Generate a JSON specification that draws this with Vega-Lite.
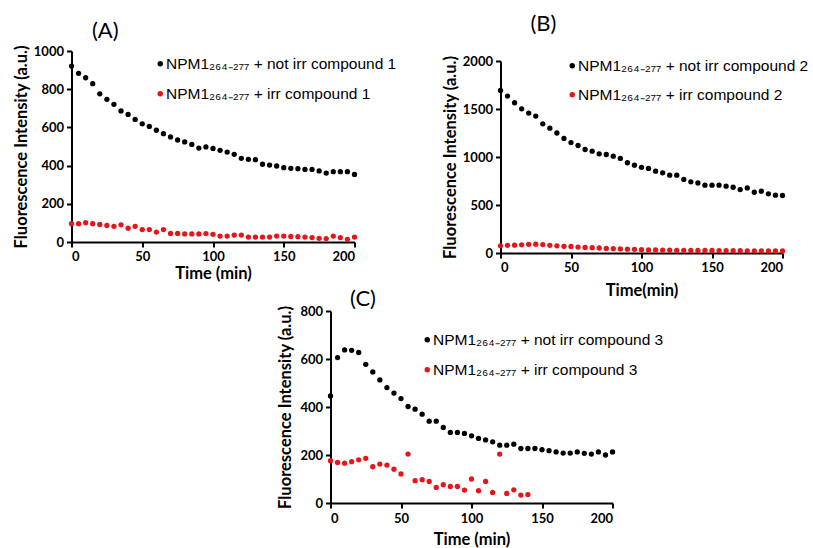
{
  "$schema": "https://vega.github.io/schema/vega-lite/v6.json",
  "padding": {"left": 12.5, "top": 13, "right": 5, "bottom": 0},
  "config": {
    "view": {"stroke": null},
    "axis": {"domainColor": "black", "domainWidth": 2, "tickColor": "black", "tickWidth": 2, "tickSize": 5, "labelFont": "Lato", "labelFontWeight": "bold", "labelFontSize": 13, "labelColor": "black", "labelPadding": 3, "titleFont": "Lato", "titleFontWeight": "bold", "titleFontSize": 16.5, "titleColor": "black", "grid": false, "format": "d"},
    "title": {"font": "Lato", "fontSize": 22, "fontWeight": "normal", "anchor": "start", "frame": "group", "color": "black"},
    "legend": {"labelFont": "Liberation Sans", "labelFontSize": 15.5, "labelColor": "black", "orient": "none", "symbolType": "circle", "symbolSize": 30, "rowPadding": 13, "labelLimit": 400, "labelOffset": -2, "symbolStrokeWidth": 0}
  },
  "datasets": {
    "A": [
      {"t":0,"s":"n","v":921},{"t":5,"s":"n","v":883},{"t":10,"s":"n","v":860},{"t":15,"s":"n","v":829},{"t":20,"s":"n","v":776},{"t":25,"s":"n","v":747},{"t":30,"s":"n","v":721},{"t":35,"s":"n","v":686},{"t":40,"s":"n","v":668},{"t":45,"s":"n","v":642},{"t":50,"s":"n","v":619},{"t":55,"s":"n","v":605},{"t":60,"s":"n","v":585},{"t":65,"s":"n","v":567},{"t":70,"s":"n","v":550},{"t":75,"s":"n","v":534},{"t":80,"s":"n","v":524},{"t":85,"s":"n","v":511},{"t":90,"s":"n","v":492},{"t":95,"s":"n","v":498},{"t":100,"s":"n","v":490},{"t":105,"s":"n","v":480},{"t":110,"s":"n","v":471},{"t":115,"s":"n","v":459},{"t":120,"s":"n","v":438},{"t":125,"s":"n","v":433},{"t":130,"s":"n","v":431},{"t":135,"s":"n","v":407},{"t":140,"s":"n","v":403},{"t":145,"s":"n","v":398},{"t":150,"s":"n","v":389},{"t":155,"s":"n","v":386},{"t":160,"s":"n","v":384},{"t":165,"s":"n","v":380},{"t":170,"s":"n","v":380},{"t":175,"s":"n","v":372},{"t":180,"s":"n","v":361},{"t":185,"s":"n","v":368},{"t":190,"s":"n","v":368},{"t":195,"s":"n","v":368},{"t":200,"s":"n","v":354},
      {"t":0,"s":"i","v":96},{"t":5,"s":"i","v":96},{"t":10,"s":"i","v":101},{"t":15,"s":"i","v":96},{"t":20,"s":"i","v":92},{"t":25,"s":"i","v":87},{"t":30,"s":"i","v":82},{"t":35,"s":"i","v":90},{"t":40,"s":"i","v":72},{"t":45,"s":"i","v":82},{"t":50,"s":"i","v":65},{"t":55,"s":"i","v":65},{"t":60,"s":"i","v":52},{"t":65,"s":"i","v":65},{"t":70,"s":"i","v":45},{"t":75,"s":"i","v":45},{"t":80,"s":"i","v":42},{"t":85,"s":"i","v":42},{"t":90,"s":"i","v":42},{"t":95,"s":"i","v":44},{"t":100,"s":"i","v":40},{"t":105,"s":"i","v":31},{"t":110,"s":"i","v":31},{"t":115,"s":"i","v":36},{"t":120,"s":"i","v":36},{"t":125,"s":"i","v":26},{"t":130,"s":"i","v":26},{"t":135,"s":"i","v":26},{"t":140,"s":"i","v":26},{"t":145,"s":"i","v":31},{"t":150,"s":"i","v":31},{"t":155,"s":"i","v":29},{"t":160,"s":"i","v":28},{"t":165,"s":"i","v":26},{"t":170,"s":"i","v":23},{"t":175,"s":"i","v":19},{"t":180,"s":"i","v":18},{"t":185,"s":"i","v":31},{"t":190,"s":"i","v":23},{"t":195,"s":"i","v":14},{"t":200,"s":"i","v":26}
    ],
    "B": [
      {"t":0,"s":"n","v":1694},{"t":5,"s":"n","v":1635},{"t":10,"s":"n","v":1565},{"t":15,"s":"n","v":1502},{"t":20,"s":"n","v":1458},{"t":25,"s":"n","v":1426},{"t":30,"s":"n","v":1346},{"t":35,"s":"n","v":1300},{"t":40,"s":"n","v":1250},{"t":45,"s":"n","v":1193},{"t":50,"s":"n","v":1150},{"t":55,"s":"n","v":1120},{"t":60,"s":"n","v":1078},{"t":65,"s":"n","v":1061},{"t":70,"s":"n","v":1033},{"t":75,"s":"n","v":1026},{"t":80,"s":"n","v":1009},{"t":85,"s":"n","v":985},{"t":90,"s":"n","v":940},{"t":95,"s":"n","v":915},{"t":100,"s":"n","v":892},{"t":105,"s":"n","v":881},{"t":110,"s":"n","v":852},{"t":115,"s":"n","v":835},{"t":120,"s":"n","v":811},{"t":125,"s":"n","v":811},{"t":130,"s":"n","v":766},{"t":135,"s":"n","v":741},{"t":140,"s":"n","v":730},{"t":145,"s":"n","v":706},{"t":150,"s":"n","v":706},{"t":155,"s":"n","v":706},{"t":160,"s":"n","v":696},{"t":165,"s":"n","v":685},{"t":170,"s":"n","v":661},{"t":175,"s":"n","v":678},{"t":180,"s":"n","v":633},{"t":185,"s":"n","v":644},{"t":190,"s":"n","v":616},{"t":195,"s":"n","v":602},{"t":200,"s":"n","v":599},
      {"t":0,"s":"i","v":75},{"t":5,"s":"i","v":80},{"t":10,"s":"i","v":82},{"t":15,"s":"i","v":85},{"t":20,"s":"i","v":90},{"t":25,"s":"i","v":92},{"t":30,"s":"i","v":88},{"t":35,"s":"i","v":80},{"t":40,"s":"i","v":75},{"t":45,"s":"i","v":70},{"t":50,"s":"i","v":68},{"t":55,"s":"i","v":62},{"t":60,"s":"i","v":58},{"t":65,"s":"i","v":55},{"t":70,"s":"i","v":52},{"t":75,"s":"i","v":48},{"t":80,"s":"i","v":45},{"t":85,"s":"i","v":42},{"t":90,"s":"i","v":40},{"t":95,"s":"i","v":38},{"t":100,"s":"i","v":35},{"t":105,"s":"i","v":32},{"t":110,"s":"i","v":32},{"t":115,"s":"i","v":30},{"t":120,"s":"i","v":30},{"t":125,"s":"i","v":28},{"t":130,"s":"i","v":28},{"t":135,"s":"i","v":27},{"t":140,"s":"i","v":27},{"t":145,"s":"i","v":26},{"t":150,"s":"i","v":26},{"t":155,"s":"i","v":25},{"t":160,"s":"i","v":25},{"t":165,"s":"i","v":24},{"t":170,"s":"i","v":24},{"t":175,"s":"i","v":23},{"t":180,"s":"i","v":23},{"t":185,"s":"i","v":22},{"t":190,"s":"i","v":22},{"t":195,"s":"i","v":21},{"t":200,"s":"i","v":21}
    ],
    "C": [
      {"t":0,"s":"n","v":446},{"t":5,"s":"n","v":606},{"t":10,"s":"n","v":638},{"t":15,"s":"n","v":636},{"t":20,"s":"n","v":627},{"t":25,"s":"n","v":578},{"t":30,"s":"n","v":546},{"t":35,"s":"n","v":513},{"t":40,"s":"n","v":481},{"t":45,"s":"n","v":458},{"t":50,"s":"n","v":435},{"t":55,"s":"n","v":402},{"t":60,"s":"n","v":391},{"t":65,"s":"n","v":370},{"t":70,"s":"n","v":341},{"t":75,"s":"n","v":341},{"t":80,"s":"n","v":315},{"t":85,"s":"n","v":294},{"t":90,"s":"n","v":294},{"t":95,"s":"n","v":290},{"t":100,"s":"n","v":280},{"t":105,"s":"n","v":269},{"t":110,"s":"n","v":263},{"t":115,"s":"n","v":255},{"t":120,"s":"n","v":241},{"t":125,"s":"n","v":241},{"t":130,"s":"n","v":245},{"t":135,"s":"n","v":227},{"t":140,"s":"n","v":227},{"t":145,"s":"n","v":227},{"t":150,"s":"n","v":222},{"t":155,"s":"n","v":218},{"t":160,"s":"n","v":213},{"t":165,"s":"n","v":208},{"t":170,"s":"n","v":208},{"t":175,"s":"n","v":213},{"t":180,"s":"n","v":207},{"t":185,"s":"n","v":204},{"t":190,"s":"n","v":213},{"t":195,"s":"n","v":200},{"t":200,"s":"n","v":213},
      {"t":0,"s":"i","v":176},{"t":5,"s":"i","v":169},{"t":10,"s":"i","v":166},{"t":15,"s":"i","v":172},{"t":20,"s":"i","v":180},{"t":25,"s":"i","v":186},{"t":30,"s":"i","v":151},{"t":35,"s":"i","v":162},{"t":40,"s":"i","v":158},{"t":45,"s":"i","v":141},{"t":50,"s":"i","v":121},{"t":55,"s":"i","v":204},{"t":60,"s":"i","v":93},{"t":65,"s":"i","v":97},{"t":70,"s":"i","v":90},{"t":75,"s":"i","v":65},{"t":80,"s":"i","v":76},{"t":85,"s":"i","v":69},{"t":90,"s":"i","v":69},{"t":95,"s":"i","v":54},{"t":100,"s":"i","v":100},{"t":105,"s":"i","v":51},{"t":110,"s":"i","v":90},{"t":115,"s":"i","v":44},{"t":120,"s":"i","v":204},{"t":125,"s":"i","v":40},{"t":130,"s":"i","v":55},{"t":135,"s":"i","v":33},{"t":140,"s":"i","v":35}
    ]
  },
  "resolve": {"scale": {"color": "independent"}, "legend": {"color": "independent"}},
  "spacing": -11,
  "vconcat": [
    {
      "hconcat": [
        {
          "data": {"name": "A"},
          "width": 283, "height": 191,
          "title": {"text": "(A)", "dx": 20.5, "offset": 2},
          "mark": {"type": "circle", "size": 28, "opacity": 1},
          "encoding": {
            "x": {"field": "t", "type": "quantitative", "scale": {"domain": [0, 200], "nice": false}, "axis": {"values": [0, 50, 100, 150, 200], "title": "Time (min)", "titlePadding": 2}},
            "y": {"field": "v", "type": "quantitative", "scale": {"domain": [0, 1000], "nice": false}, "axis": {"values": [0, 200, 400, 600, 800, 1000], "title": "Fluorescence Intensity (a.u.)", "titlePadding": 4}},
            "color": {"field": "s", "type": "nominal", "scale": {"domain": ["n", "i"], "range": ["black", "#e8141a"]}, "legend": {"title": null, "legendX": 81, "legendY": 5, "labelExpr": "datum.value == 'n' ? 'NPM1₂₆₄₋₂₇₇ + not irr compound 1' : 'NPM1₂₆₄₋₂₇₇ + irr compound 1'"}}
          }
        },
        {
          "data": {"name": "B"},
          "width": 282, "height": 202,
          "title": {"text": "(B)", "dx": 30, "offset": 15},
          "mark": {"type": "circle", "size": 28, "opacity": 1},
          "encoding": {
            "x": {"field": "t", "type": "quantitative", "scale": {"domain": [0, 200], "nice": false}, "axis": {"values": [0, 50, 100, 150, 200], "title": "Time(min)", "titlePadding": 8}},
            "y": {"field": "v", "type": "quantitative", "scale": {"domain": [0, 2000], "nice": false, "range": [202, 10]}, "axis": {"values": [0, 500, 1000, 1500, 2000], "title": "Fluorescence Intensity (a.u.)", "titlePadding": 4}},
            "color": {"field": "s", "type": "nominal", "scale": {"domain": ["n", "i"], "range": ["black", "#e8141a"]}, "legend": {"title": null, "legendX": 64, "legendY": 7, "rowPadding": 12, "labelExpr": "datum.value == 'n' ? 'NPM1₂₆₄₋₂₇₇ + not irr compound 2' : 'NPM1₂₆₄₋₂₇₇ + irr compound 2'"}}
          }
        }
      ],
      "spacing": 45,
      "resolve": {"scale": {"color": "independent"}, "legend": {"color": "independent"}}
    },
    {
      "hconcat": [
        {"data": {"values": []}, "width": 206, "height": 10, "mark": {"type": "point"}, "encoding": {}},
        {
          "data": {"name": "C"},
          "width": 282, "height": 192,
          "title": {"text": "(C)", "dx": 19.5, "offset": -6},
          "mark": {"type": "circle", "size": 28, "opacity": 1},
          "encoding": {
            "x": {"field": "t", "type": "quantitative", "scale": {"domain": [0, 200], "nice": false}, "axis": {"values": [0, 50, 100, 150, 200], "title": "Time (min)", "titlePadding": 6, "labelPadding": 4}},
            "y": {"field": "v", "type": "quantitative", "scale": {"domain": [0, 800], "nice": false}, "axis": {"values": [0, 200, 400, 600, 800], "title": "Fluorescence Intensity (a.u.)", "titlePadding": 6}},
            "color": {"field": "s", "type": "nominal", "scale": {"domain": ["n", "i"], "range": ["black", "#e8141a"]}, "legend": {"title": null, "legendX": 89, "legendY": 21, "labelExpr": "datum.value == 'n' ? 'NPM1₂₆₄₋₂₇₇ + not irr compound 3' : 'NPM1₂₆₄₋₂₇₇ + irr compound 3'"}}
          }
        }
      ],
      "spacing": 0,
      "resolve": {"scale": {"color": "independent"}, "legend": {"color": "independent"}}
    }
  ]
}
